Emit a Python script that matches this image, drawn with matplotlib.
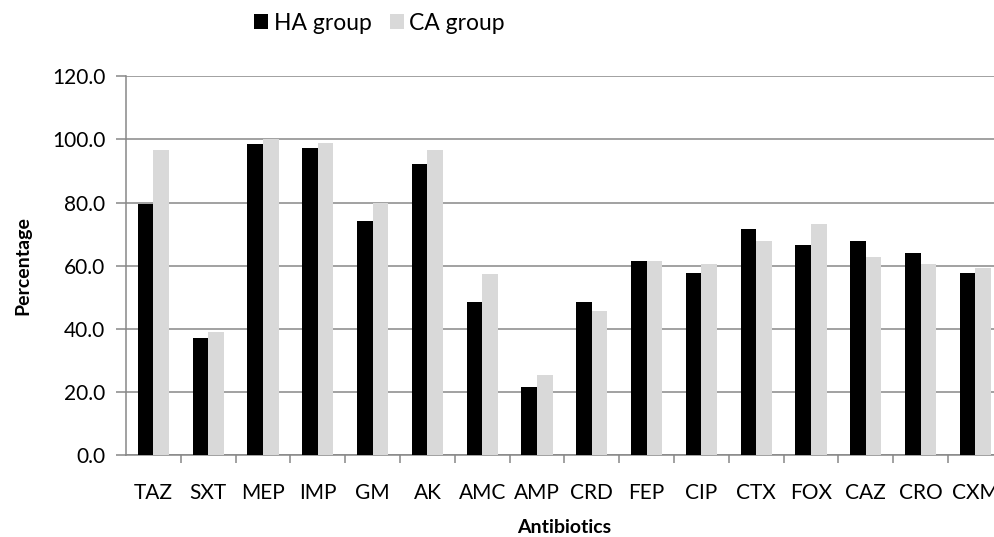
import numpy as np
from matplotlib import pyplot as plt

# antibiotic resistance
antibiotics = ["TAZ", "SXT", "MEP", "IMP", "GM", "AK", "AMC", "AMP",
               "CRD", "FEP", "CIP", "CTX", "FOX", "CAZ", "CRO", "CXM"]
ha_group = [79.4, 37.1, 98.6, 97.3, 74.3, 92.1, 48.6, 21.7,
            48.6, 61.4, 57.6, 71.6, 66.6, 67.8, 64.0, 57.6]
ca_group = [96.7, 39.1, 100.0, 98.8, 79.8, 96.7, 57.3, 25.4,
            45.6, 61.5, 60.5, 67.9, 73.2, 62.7, 60.5, 59.4]
y_ticks = [0, 20, 40, 60, 80, 100, 120]

plt.rcParams['font.family'] = ['Lato', 'DejaVu Sans']
grid_col = '#878787'

fig = plt.figure(figsize=(9.94, 5.37), dpi=100)
# plot area runs past the right edge, as in the reference
ax = fig.add_axes([0.1268, 0.1527, 0.882, 0.7052])

x = np.arange(len(antibiotics))
w = 0.285
ax.bar(x - w / 2, ha_group, w, color='black', label='HA group', zorder=3)
ax.bar(x + w / 2, ca_group, w, color='#d9d9d9', label='CA group', zorder=3)

ax.set_xlim(-0.5, len(antibiotics) - 0.5)
ax.set_ylim(0, 120)
ax.set_yticks(y_ticks)
ax.set_yticklabels([f"{v:.1f}" for v in y_ticks])
ax.yaxis.grid(True, color=grid_col, linewidth=1.1, zorder=0)

ax.set_xticks(x)
ax.set_xticklabels(antibiotics)
ax.set_xticks(np.arange(len(antibiotics)) + 0.5, minor=True)
ax.tick_params(axis='x', which='major', length=0, pad=20, labelsize=15)
ax.tick_params(axis='x', which='minor', length=6, color=grid_col, width=1.1)
ax.tick_params(axis='y', length=7, color=grid_col, width=1.1, labelsize=15, pad=8)

for side in ['top', 'right']:
    ax.spines[side].set_visible(False)
for side in ['left', 'bottom']:
    ax.spines[side].set_color(grid_col)
    ax.spines[side].set_linewidth(1.1)

ax.set_ylabel("Percentage", fontsize=14, fontweight='bold', labelpad=15)
ax.set_xlabel("Antibiotics", fontsize=14, fontweight='bold', labelpad=12)

fig.legend(loc='center', bbox_to_anchor=(0.382, 0.957), ncol=2, frameon=False,
           fontsize=16.5, handlelength=0.6, handleheight=0.6, handletextpad=0.25,
           columnspacing=0.8)

plt.savefig("out.png", dpi=100)
